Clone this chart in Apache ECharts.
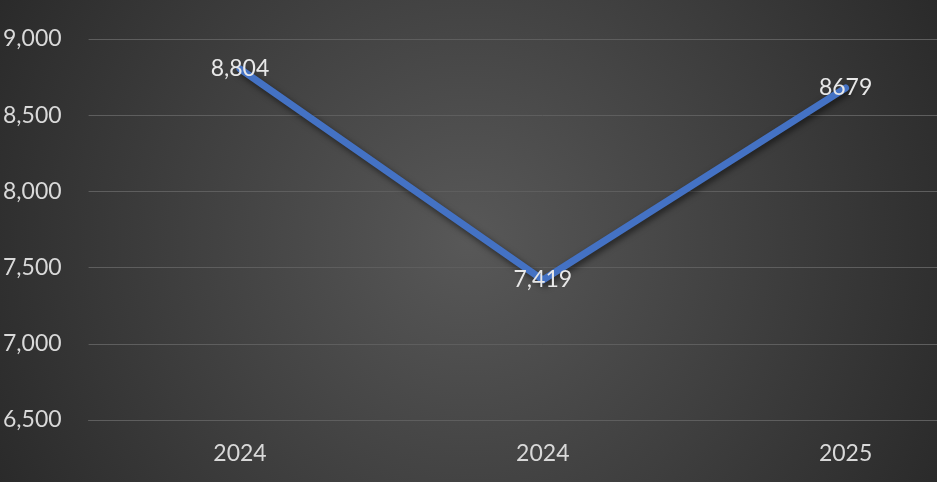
<!DOCTYPE html>
<html>
<head>
<meta charset="utf-8">
<script src="https://cdn.jsdelivr.net/npm/echarts@6/dist/echarts.min.js"></script>
<style>
html,body{margin:0;padding:0;background:#333;overflow:hidden;width:937px;height:482px;}
#chart{width:997px;height:482px;}
</style>
</head>
<body>
<div id="chart"></div>
<script>
const categories = ['2024', '2024', '2025'];
const values = [8804, 7419, 8679];
const labelTexts = ['8,804', '7,419', '8679'];
const yMin = 6500, yMax = 9000, yStep = 500;

const chart = echarts.init(document.getElementById('chart'));
const font = 'Lato, "Noto Sans", sans-serif';
chart.setOption({
  animation: false,
  backgroundColor: {
    type: 'radial', x: 0.47, y: 0.5, r: 1.1,
    colorStops: [
      { offset: 0, color: '#585858' },
      { offset: 1, color: '#2a2a2a' }
    ]
  },
  grid: { left: 85, right: 0, top: 39, bottom: 62, containLabel: false },
  xAxis: {
    type: 'category',
    data: categories,
    boundaryGap: true,
    axisLine: { show: true, lineStyle: { color: '#5e5e5e', width: 1 } },
    axisTick: { show: false },
    axisLabel: { color: '#d9d9d9', fontSize: 23, fontFamily: font, margin: 22 }
  },
  yAxis: {
    type: 'value',
    min: yMin, max: yMax, interval: yStep,
    axisLine: { show: false },
    axisTick: { show: false },
    splitLine: { lineStyle: { color: '#5e5e5e', width: 1 } },
    axisLabel: {
      color: '#d9d9d9', fontSize: 23, fontFamily: font, margin: 27,
      formatter: v => v.toLocaleString('en-US')
    }
  },
  series: [{
    type: 'line',
    data: values,
    symbol: 'circle',
    symbolSize: 1,
    itemStyle: { color: '#4472C4' },
    lineStyle: {
      color: '#4472C4', width: 7, cap: 'round', join: 'round',
      shadowColor: 'rgba(0,0,0,0.55)', shadowBlur: 6, shadowOffsetX: 2, shadowOffsetY: 3
    },
    label: {
      show: true,
      position: 'inside',
      color: '#e8e8e8',
      fontSize: 23,
      fontFamily: font,
      formatter: p => labelTexts[p.dataIndex]
    }
  }]
});
</script>
</body>
</html>
